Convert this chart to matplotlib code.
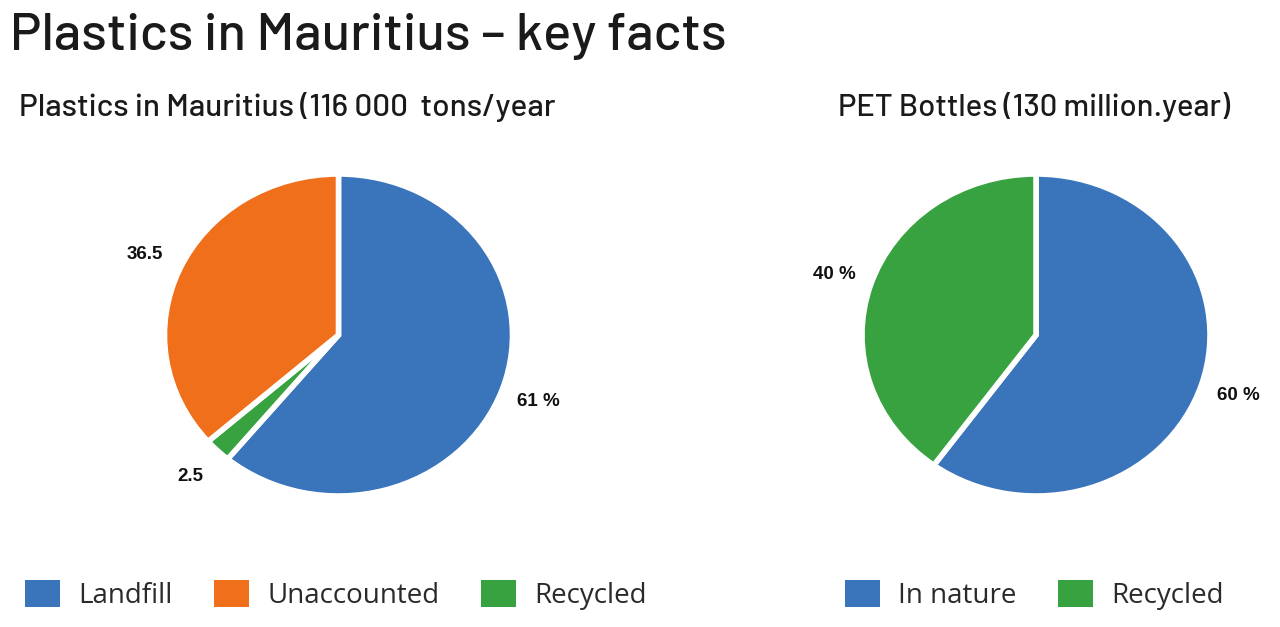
import matplotlib
matplotlib.use("Agg")
import matplotlib.pyplot as plt
from matplotlib.patches import Patch

# ---- data ----
title = "Plastics in Mauritius – key facts"
left_title = "Plastics in Mauritius (116 000  tons/year"
left_categories = ["Landfill", "Unaccounted", "Recycled"]
left_values = [61.0, 36.5, 2.5]
left_labels = ["61 %", "36.5", "2.5"]
left_draw_order = [0, 2, 1]  # clockwise from top

right_title = "PET Bottles (130 million.year)"
right_categories = ["In nature", "Recycled"]
right_values = [60.0, 40.0]
right_labels = ["60 %", "40 %"]
right_draw_order = [0, 1]

BLUE = "#3a74bb"
ORANGE = "#f06f1a"
GREEN = "#37a23f"
left_colors = [BLUE, ORANGE, GREEN]
right_colors = [BLUE, GREEN]

W, H = 1280, 627
fig = plt.figure(figsize=(W / 100, H / 100), dpi=100)
fig.patch.set_facecolor("white")

def px_axes(cx, cy, rx, ry, lim=1.45):
    w = 2 * lim * rx
    h = 2 * lim * ry
    return fig.add_axes([(cx - w / 2) / W, 1 - (cy + h / 2) / H, w / W, h / H])

def draw_pie(ax, values, colors, labels, order):
    vals = [values[i] for i in order]
    cols = [colors[i] for i in order]
    labs = [labels[i] for i in order]
    wedges, texts = ax.pie(vals, colors=cols, labels=labs, startangle=90,
                           counterclock=False, labeldistance=1.22,
                           wedgeprops=dict(edgecolor="white", linewidth=4),
                           textprops=dict(fontsize=13.5, fontweight="bold",
                                          family=["Liberation Sans", "DejaVu Sans"],
                                          color="#111111"),
                           frame=False)
    for t in texts:
        t.set_horizontalalignment("center")
        t.set_verticalalignment("center")
    ax.set_xlim(-1.45, 1.45)
    ax.set_ylim(-1.45, 1.45)
    ax.set_aspect("auto")
    ax.axis("off")

axL = px_axes(338.5, 335, 174, 161)
draw_pie(axL, left_values, left_colors, left_labels, left_draw_order)
axR = px_axes(1036, 335, 174, 161)
draw_pie(axR, right_values, right_colors, right_labels, right_draw_order)

fam = ["Barlow", "DejaVu Sans"]
fig.text(10 / W, 1 - 36 / H, title, fontsize=38, family=fam, fontweight=500,
         color="#1a1a1a", va="center", ha="left")
fig.text(19 / W, 1 - 107 / H, left_title, fontsize=22.7, family=fam, fontweight=500,
         color="#1a1a1a", va="center", ha="left")
fig.text(838 / W, 1 - 107 / H, right_title, fontsize=22.3, family=fam, fontweight=500,
         color="#1a1a1a", va="center", ha="left")

leg_font = dict(family=["Open Sans", "DejaVu Sans"], size=20, weight=400)
common = dict(loc="center left", frameon=False, prop=leg_font,
              handlelength=1.26, handleheight=1.15, handletextpad=0.65,
              columnspacing=1.5, borderpad=0, borderaxespad=0, labelcolor="#2a2a2a")
hL = [Patch(facecolor=c, edgecolor="none") for c in left_colors]
fig.legend(hL, left_categories, bbox_to_anchor=(25 / W, 1 - 595 / H), ncol=3, **common)
hR = [Patch(facecolor=c, edgecolor="none") for c in right_colors]
fig.legend(hR, right_categories, bbox_to_anchor=(845 / W, 1 - 595 / H), ncol=2, **common)

fig.savefig("out.png", dpi=100, facecolor="white")
